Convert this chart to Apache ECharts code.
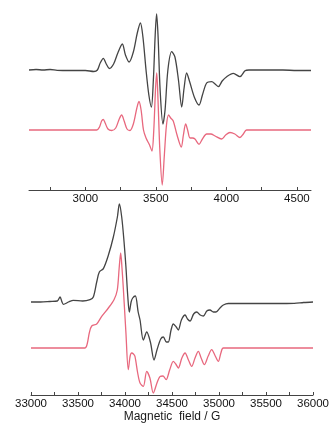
<!DOCTYPE html>
<html>
<head>
<meta charset="utf-8">
<script src="https://cdn.jsdelivr.net/npm/echarts@6/dist/echarts.min.js"></script>
<style>
  html, body { margin: 0; padding: 0; background: #fff; }
  #main { width: 332px; height: 430px; }
</style>
</head>
<body>
<div id="main"></div>
<script>
// X-band spectrum (top panel), field in G
var xFieldExp = [2600, 2650, 2700, 2750, 2800, 2900, 3000, 3060, 3085, 3105, 3127, 3148, 3170, 3200, 3230, 3262, 3284, 3310, 3340, 3368, 3390, 3408, 3430, 3450, 3468, 3482, 3495, 3505, 3515, 3530, 3550, 3565, 3585, 3612, 3635, 3660, 3683, 3700, 3718, 3740, 3775, 3806, 3830, 3860, 3896, 3920, 3943, 3970, 4002, 4049, 4096, 4132, 4160, 4300, 4400, 4500, 4600];
var xValExp   = [0, 0.5, 0, 0.5, -0.3, -0.5, -0.5, -1.5, 0, 7, 11.7, 6, 1.5, 6, 17, 26, 15, 8, 18, 37, 47, 33, 0, -25, -37, -10, 35, 56, 35, -20, -54, -40, 0, 18.3, 13, -10, -37, -18, -3, -12, -28, -35, -25, -13, -11.7, -14, -16.7, -11, -6.7, -3.3, -6.7, -0.7, 0, 0, 0, -0.5, -0.5];
var xFieldSim = [2600, 3080, 3100, 3115, 3127, 3140, 3160, 3187, 3215, 3240, 3257, 3275, 3295, 3316, 3340, 3365, 3380, 3395, 3412, 3430, 3455, 3472, 3485, 3497, 3506, 3515, 3528, 3545, 3560, 3575, 3590, 3605, 3623, 3650, 3680, 3695, 3711, 3725, 3742, 3760, 3777, 3806, 3830, 3860, 3890, 3920, 3966, 3995, 4025, 4060, 4096, 4120, 4143, 4600];
var xValSim   = [0, 0, 3, 9, 10.5, 7, 1, -0.5, 2, 11, 15, 9, 1, -0.5, 6, 22, 28.5, 20, 0, -8, -15, -21, 0, 40, 57, 30, -20, -55, -25, 5, 15, 12, 9, -5, -17, -5, 6, 0, -8, -8, -9, -14.3, -9, -4, -4, -6, -9, -5, -2.5, -4, -7.5, -4, 0, 0];

// W-band spectrum (bottom panel), field in G
var wFieldExp = [33000, 33100, 33200, 33280, 33309, 33330, 33344, 33400, 33450, 33550, 33628, 33663, 33699, 33727, 33770, 33823, 33876, 33919, 33940, 33965, 33990, 34010, 34030, 34046, 34065, 34082, 34110, 34140, 34160, 34195, 34231, 34270, 34309, 34340, 34380, 34408, 34440, 34461, 34490, 34514, 34545, 34567, 34600, 34639, 34665, 34692, 34730, 34763, 34800, 34834, 34870, 34904, 34940, 34968, 35010, 35046, 35099, 35200, 35400, 35600, 35800, 35900, 36000];
var wValExp   = [0, 0, 0.5, 1, 5, 0, -2.3, 0, 1.7, 1, 2.4, 5, 20, 30, 33.4, 46.7, 65, 85, 98, 85, 60, 35, 5, -10, 0, 4, 6, -10, -18, -38, -30, -40, -58, -48, -37, -35, -40, -40, -28, -22, -25, -28, -18, -13, -17, -19, -12, -10, -13, -14, -9, -8, -10, -10, -6, -3, -1.5, -1.5, -1.5, -1.5, -1.3, -0.5, 0];
var wFieldSim = [33000, 33575, 33600, 33620, 33646, 33699, 33752, 33823, 33883, 33918, 33938, 33954, 33968, 33982, 34010, 34035, 34055, 34071, 34090, 34106, 34135, 34160, 34195, 34231, 34265, 34301, 34340, 34373, 34405, 34437, 34475, 34514, 34540, 34567, 34605, 34639, 34675, 34709, 34745, 34780, 34810, 34844, 34885, 34922, 34960, 34993, 35020, 35046, 36000];
var wValSim   = [0, 0, 5, 15, 22, 24, 31.6, 40, 48.3, 58, 80, 95, 80, 60, 15, -21.7, -8, -5, -6, -8.4, -25, -35, -38.4, -23.4, -30, -45, -35, -28.4, -28, -31.7, -22, -13.4, -16, -20, -10, -5, -12, -18.4, -10, -3.4, -10, -16.7, -8, -1.7, -8, -13.4, -5, 0, 0];

// axis ticks and labels
var xTicks  = [2750, 3000, 3250, 3500, 3750, 4000, 4250, 4500];
var xLabels = [3000, 3500, 4000, 4500];
var wTicks  = [33000, 33250, 33500, 33750, 34000, 34250, 34500, 34750, 35000, 35250, 35500, 35750, 36000];
var wLabels = [33000, 33500, 34000, 34500, 35000, 35500, 36000];

// vertical offset of the experimental trace above the simulated one
var xOffset = 60;
var wOffset = 46;

function pairs(fields, vals, off) {
  return fields.map(function (f, i) { return [f, vals[i] + off]; });
}

var chart = echarts.init(document.getElementById('main'));

function xAx(idx, min, max, ticks, labels, name) {
  return {
    type: 'value', gridIndex: idx, min: min, max: max,
    name: name || '', nameLocation: 'middle', nameGap: 13,
    nameTextStyle: { color: '#1a1a1a', fontSize: 12, fontFamily: 'Liberation Sans' },
    axisLine: { onZero: false, lineStyle: { color: '#444', width: 1 } },
    axisTick: { show: true, inside: true, length: 3, customValues: ticks, lineStyle: { color: '#444' } },
    axisLabel: {
      customValues: labels, color: '#111', fontSize: 11.5, margin: 3, fontFamily: 'Liberation Sans',
      formatter: function (v) { return String(v); }
    },
    splitLine: { show: false }
  };
}

function yAx(idx, min, max) {
  return {
    type: 'value', gridIndex: idx, min: min, max: max, show: false,
    splitLine: { show: false }
  };
}

var blk = '#444', red = '#e8687e';

chart.setOption({
  animation: false,
  grid: [
    { left: 29, right: 21, top: 5, bottom: 240 },
    { left: 31, right: 19, top: 195, bottom: 35 }
  ],
  xAxis: [
    xAx(0, 2600, 4600, xTicks, xLabels),
    xAx(1, 33000, 36000, wTicks, wLabels, 'Magnetic  field / G')
  ],
  yAxis: [yAx(0, -60, 125), yAx(1, -47, 153)],
  series: [
    { type: 'line', xAxisIndex: 0, yAxisIndex: 0, data: pairs(xFieldExp, xValExp, xOffset),
      showSymbol: false, smooth: 0.3, lineStyle: { color: blk, width: 1.3 } },
    { type: 'line', xAxisIndex: 0, yAxisIndex: 0, data: pairs(xFieldSim, xValSim, 0),
      showSymbol: false, smooth: 0.3, lineStyle: { color: red, width: 1.3 } },
    { type: 'line', xAxisIndex: 1, yAxisIndex: 1, data: pairs(wFieldExp, wValExp, wOffset),
      showSymbol: false, smooth: 0.3, lineStyle: { color: blk, width: 1.3 } },
    { type: 'line', xAxisIndex: 1, yAxisIndex: 1, data: pairs(wFieldSim, wValSim, 0),
      showSymbol: false, smooth: 0.3, lineStyle: { color: red, width: 1.3 } }
  ]
});
</script>
</body>
</html>
